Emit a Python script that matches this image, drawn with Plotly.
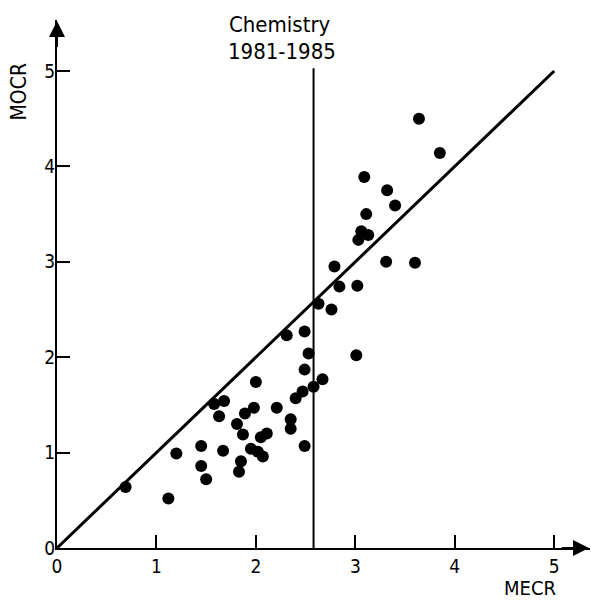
import plotly.graph_objects as go

# Data
mecr = [0.69, 1.12, 1.20, 1.45, 1.45, 1.50, 1.67, 1.58, 1.68, 1.63,
        1.81, 1.87, 1.89, 1.98, 2.00, 1.85, 1.83, 1.95, 2.02, 2.07,
        2.05, 2.11, 2.21, 2.31, 2.35, 2.35, 2.40, 2.47, 2.49, 2.49,
        2.53, 2.49, 2.67, 2.58, 2.63, 2.76, 3.01, 2.79, 2.84, 3.02,
        3.31, 3.60, 3.03, 3.06, 3.13, 3.11, 3.40, 3.32, 3.09, 3.85,
        3.64]
mocr = [0.64, 0.52, 0.99, 1.07, 0.86, 0.72, 1.02, 1.51, 1.54, 1.38,
        1.30, 1.19, 1.41, 1.47, 1.74, 0.91, 0.80, 1.04, 1.01, 0.96,
        1.16, 1.20, 1.47, 2.23, 1.35, 1.25, 1.57, 1.64, 1.07, 2.27,
        2.04, 1.87, 1.77, 1.69, 2.56, 2.50, 2.02, 2.95, 2.74, 2.75,
        3.00, 2.99, 3.23, 3.32, 3.28, 3.50, 3.59, 3.75, 3.89, 4.14,
        4.50]
diag_x = [0, 5]
diag_y = [0, 5]
divider_x = [2.58, 2.58]
divider_y = [0, 5.03]
tick_vals = [0, 1, 2, 3, 4, 5]
tick_text = ["0", "1", "2", "3", "4", "5"]
title_lines = ["Chemistry", "1981-1985"]

X_MAX = 5.36
Y_MAX = 5.535
FONT = "DejaVu Sans Condensed, Liberation Sans Narrow, DejaVu Sans, sans-serif"

fig = go.Figure()
fig.add_trace(go.Scatter(x=diag_x, y=diag_y, mode="lines",
                         line=dict(color="black", width=3), showlegend=False,
                         cliponaxis=False))
fig.add_trace(go.Scatter(x=divider_x, y=divider_y, mode="lines",
                         line=dict(color="black", width=2), showlegend=False,
                         cliponaxis=False))
fig.add_trace(go.Scatter(x=mecr, y=mocr, mode="markers",
                         marker=dict(color="black", size=12, line=dict(width=0)),
                         showlegend=False, cliponaxis=False))

axis_common = dict(
    tickmode="array", tickvals=tick_vals, ticktext=tick_text,
    ticks="inside", ticklen=13, tickwidth=2, tickcolor="black",
    showticklabels=True, showgrid=False, zeroline=False,
    showline=True, linecolor="black", linewidth=2, mirror=False,
    tickfont=dict(family=FONT, size=19, color="black"),
    fixedrange=True, automargin=False,
)
fig.update_xaxes(range=[0, X_MAX], **axis_common)
fig.update_yaxes(range=[0, Y_MAX], ticklabelstandoff=-4, **axis_common)

# Arrowheads at the ends of the axes
fig.add_annotation(x=X_MAX - 0.01, y=0, ax=X_MAX - 0.3, ay=0,
                   xref="x", yref="y", axref="x", ayref="y",
                   text="", showarrow=True, arrowhead=2, arrowsize=1.6,
                   arrowwidth=2, arrowcolor="black")
fig.add_annotation(x=0, y=Y_MAX - 0.01, ax=0, ay=Y_MAX - 0.3,
                   xref="x", yref="y", axref="x", ayref="y",
                   text="", showarrow=True, arrowhead=2, arrowsize=1.6,
                   arrowwidth=2, arrowcolor="black")

# Axis titles (paper coordinates so they are not hidden outside the axis range)
fig.add_annotation(x=-0.072, y=0.864, xref="paper", yref="paper", text="MOCR",
                   showarrow=False, textangle=-90, xanchor="center", yanchor="middle",
                   font=dict(family=FONT, size=21, color="black"))
fig.add_annotation(x=0.887, y=-0.076, xref="paper", yref="paper", text="MECR",
                   showarrow=False, xanchor="center", yanchor="middle",
                   font=dict(family=FONT, size=20, color="black"))

# Title text above the divider
fig.add_annotation(x=2.24, y=5.49, xref="x", yref="y", text=title_lines[0], showarrow=False,
                   font=dict(family=FONT, size=22, color="black"))
fig.add_annotation(x=2.26, y=5.20, xref="x", yref="y", text=title_lines[1], showarrow=False,
                   font=dict(family=FONT, size=22, color="black"))

fig.update_layout(
    template="none",
    width=591, height=601, autosize=False,
    margin=dict(l=57, r=1, t=20, b=53, pad=0),
    paper_bgcolor="white", plot_bgcolor="white",
    showlegend=False,
)

fig.write_html("out.html", config={"displayModeBar": False},
               post_script="document.body.style.margin='0';document.body.style.overflow='hidden';")
